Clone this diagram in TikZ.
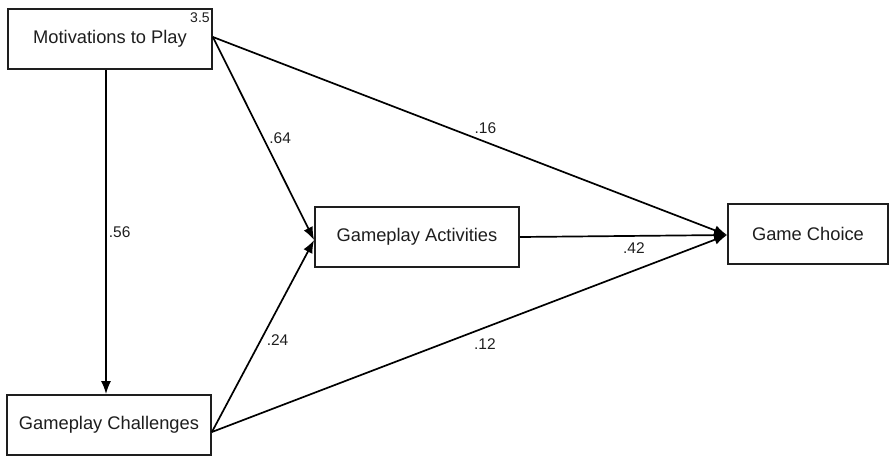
\documentclass[tikz,border=0pt]{standalone}
\usepackage{fontspec}
\setmainfont{Liberation Sans}
\usepackage{tikz}
\usetikzlibrary{
    positioning,
    arrows.meta
}
\definecolor{boxGray}{RGB}{30, 30, 30}

\begin{document}
\begin{tikzpicture}[x=1pt, y=-1pt,
        varbox/.style={draw=boxGray, line width=1.8pt, fill=white, minimum height=60pt, inner sep=0pt, font=\fontsize{18.3}{20}\selectfont, text=boxGray},
        path/.style={line width=1.7pt, -{Latex[length=13pt, width=10pt]}},
        coef/.style={font=\fontsize{15.5}{17}\selectfont, text=boxGray, inner sep=2pt}]
            \useasboundingbox (0,0) rectangle (889,456);
            
            \node[varbox, minimum width=204pt] (mot) at (110,39) {Motivations to Play};
            \node[varbox, minimum width=204pt] (chal) at (109,425) {Gameplay Challenges};
            \node[varbox, minimum width=204pt] (act) at (417,237) {Gameplay Activities};
            \node[varbox, minimum width=160pt] (gc) at (808,234) {Game Choice};
            \node[coef, anchor=north east, inner sep=0pt, font=\fontsize{14}{16}\selectfont] at ([xshift=-3pt, yshift=-4.5pt]mot.north east) {3.5};
            
            \coordinate (motOut) at ([yshift=2pt]mot.east);
            \coordinate (chalOut) at ([yshift=-7pt]chal.east);
            \coordinate (gcIn) at ([yshift=-1pt]gc.west);
            \coordinate (actIn) at ([yshift=-3pt]act.west);
            
            \draw[path] ([xshift=-4pt]mot.south) -- ([xshift=-3pt]chal.north) node[coef, midway, right] {.56};
            \draw[path] (motOut) -- (actIn) node[coef, pos=0.5, right=3pt] {.64};
            \draw[path] (motOut) -- (gcIn) node[coef, pos=0.53, above=5pt] {.16};
            \draw[path] (act.east) -- (gcIn) node[coef, pos=0.55, below=4pt] {.42};
            \draw[path] (chalOut) -- (actIn) node[coef, pos=0.48, right=3pt] {.24};
            \draw[path] (chalOut) -- (gcIn) node[coef, pos=0.53, below=8pt] {.12};
        \end{tikzpicture}
\end{document}
